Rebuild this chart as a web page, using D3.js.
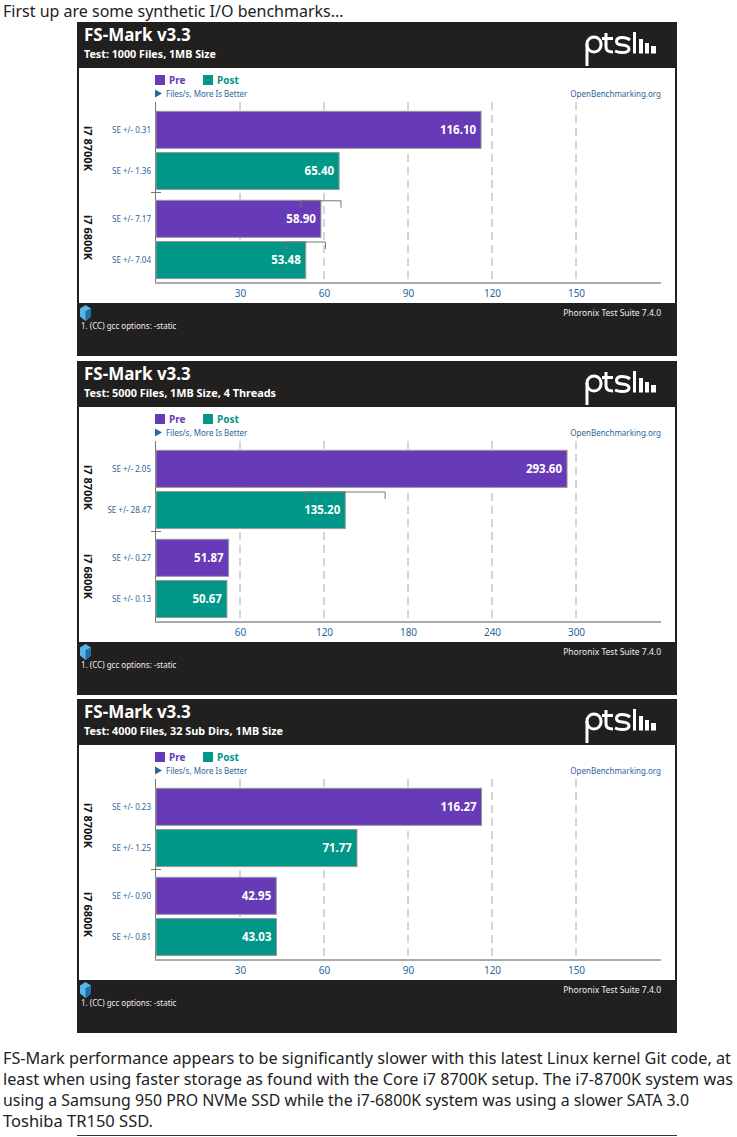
<!DOCTYPE html>
<html>
<head>
<meta charset="utf-8">
<script src="https://cdn.jsdelivr.net/npm/d3@7"></script>
<style>
  body { margin: 0; background: #fff; }
  svg { display: block; }
</style>
</head>
<body>
<script>
// Chart data
const tests = ['Test: 1000 Files, 1MB Size', 'Test: 5000 Files, 1MB Size, 4 Threads', 'Test: 4000 Files, 32 Sub Dirs, 1MB Size'];
const systems = ['i7 8700K', 'i7 6800K'];
const series = ['Pre', 'Post'];
const preValues = [[116.10, 58.90], [293.60, 51.87], [116.27, 42.95]];
const postValues = [[65.40, 53.48], [135.20, 50.67], [71.77, 43.03]];
const preSE = [[0.31, 7.17], [2.05, 0.27], [0.23, 0.90]];
const postSE = [[1.36, 7.04], [28.47, 0.13], [1.25, 0.81]];
const tickValues = [[30, 60, 90, 120, 150], [60, 120, 180, 240, 300], [30, 60, 90, 120, 150]];
const axisMax = [180, 360, 180];

const introText = 'First up are some synthetic I/O benchmarks...';
const paragraph = [
  'FS-Mark performance appears to be significantly slower with this latest Linux kernel Git code, at',
  'least when using faster storage as found with the Core i7 8700K setup. The i7-8700K system was',
  'using a Samsung 950 PRO NVMe SSD while the i7-6800K system was using a slower SATA 3.0',
  'Toshiba TR150 SSD.'
];

const W = 737, H = 1137;
const font = '"Noto Sans", "Open Sans", sans-serif';
const colors = { Pre: '#673ab7', Post: '#009688' };
const blue = '#2b6699', dark = '#221f1f';

const svg = d3.select('body').append('svg')
    .attr('width', W)
    .attr('height', H)
    .style('font-family', font);

// shrink a text to a width if it runs long
function fit(sel, w) {
  sel.each(function () {
    if (this.getComputedTextLength() > w) {
      d3.select(this).attr('textLength', w).attr('lengthAdjust', 'spacingAndGlyphs');
    }
  });
}

svg.append('text')
    .attr('x', 3).attr('y', 17)
    .attr('font-size', 16).attr('fill', '#222')
    .text(introText)
    .call(fit, 342);

const panelTops = [22, 361, 699];
const px0 = 77, px1 = 677;

tests.forEach((test, i) => {
  const g = svg.append('g').attr('transform', `translate(0,${panelTops[i]})`);

  // frame, header and footer
  g.append('rect').attr('x', px0).attr('y', 0).attr('width', px1 - px0).attr('height', 334).attr('fill', dark);
  g.append('rect').attr('x', px0 + 2).attr('y', 46).attr('width', px1 - px0 - 4).attr('height', 235).attr('fill', '#fff');

  g.append('text').attr('x', 84).attr('y', 18.5)
      .attr('font-size', 17).attr('font-weight', 'bold').attr('fill', '#fff')
      .text('FS-Mark v3.3').call(fit, 107);
  g.append('text').attr('x', 84).attr('y', 35.5)
      .attr('font-size', 11).attr('font-weight', 'bold').attr('fill', '#fff')
      .text(test).call(fit, [132, 192, 199][i]);

  // ptsl logo
  const logo = g.append('g').attr('stroke', '#fff').attr('stroke-width', 3).attr('fill', 'none');
  logo.append('rect').attr('x', 587).attr('y', 15).attr('width', 14).attr('height', 15).attr('rx', 7);
  logo.append('path').attr('d', 'M587,22 V44');
  logo.append('path').attr('d', 'M606,11 V25 Q606,30 613,30');
  logo.append('path').attr('d', 'M602,16.5 H613');
  logo.append('path').attr('d', 'M630,18 Q627,15.5 622,15.5 Q616.5,15.5 616.5,19.5 Q616.5,22.5 622,23 Q629,23.5 629,27 Q629,30.5 622,30.5 Q618,30.5 615,29');
  const bars = g.append('g').attr('fill', '#fff');
  bars.append('rect').attr('x', 633).attr('y', 10).attr('width', 3).attr('height', 21.5);
  bars.append('rect').attr('x', 639).attr('y', 17).attr('width', 4).attr('height', 14.5);
  bars.append('rect').attr('x', 645).attr('y', 21).attr('width', 4).attr('height', 10.5);
  bars.append('rect').attr('x', 651).attr('y', 24).attr('width', 5).attr('height', 7.5);

  // legend
  const leg = g.selectAll('.leg').data(series).join('g')
      .attr('transform', (d, j) => `translate(${155 + j * 48},53)`);
  leg.append('rect').attr('width', 10).attr('height', 10).attr('fill', d => colors[d]);
  leg.append('text').attr('x', 14).attr('y', 8.5)
      .attr('font-size', 10).attr('font-weight', 'bold').attr('fill', d => colors[d])
      .text(d => d);

  g.append('path').attr('d', 'M155,67.5 L162,71.5 L155,75.5 Z').attr('fill', blue);
  g.append('text').attr('x', 166).attr('y', 74.5).attr('font-size', 8).attr('fill', blue)
      .text('Files/s, More Is Better');
  g.append('text').attr('x', 661).attr('y', 74.5).attr('font-size', 8).attr('fill', blue)
      .attr('text-anchor', 'end').text('OpenBenchmarking.org');

  // scales
  const top = 80, bottom = 260;
  const x = d3.scaleLinear().domain([0, axisMax[i]]).range([156, 660]);
  const y = d3.scaleBand().domain(systems).range([top + 2, bottom]);
  const ys = d3.scaleBand().domain(series).range([0, y.bandwidth()])
      .paddingInner(0.1).paddingOuter(0.13).align(0.68);

  // dashed grid
  g.selectAll('.grid').data(tickValues[i]).join('line')
      .attr('x1', d => x(d)).attr('x2', d => x(d))
      .attr('y1', top).attr('y2', bottom)
      .attr('stroke', '#aaa').attr('stroke-dasharray', '8,5');

  // left axis line and group separator
  g.append('line').attr('x1', 155.5).attr('x2', 155.5).attr('y1', top).attr('y2', bottom)
      .attr('stroke', '#777');
  g.append('line').attr('x1', 151).attr('x2', 161)
      .attr('y1', y(systems[1]) - 0.5).attr('y2', y(systems[1]) - 0.5)
      .attr('stroke', '#777');

  const rows = [];
  systems.forEach((s, k) => {
    rows.push({ sys: s, ser: 'Pre', v: preValues[i][k], se: preSE[i][k] });
    rows.push({ sys: s, ser: 'Post', v: postValues[i][k], se: postSE[i][k] });
  });
  const by = d => y(d.sys) + ys(d.ser);
  const bh = ys.bandwidth();

  g.selectAll('.bar').data(rows).join('rect')
      .attr('x', x(0)).attr('y', by)
      .attr('width', d => x(d.v) - x(0)).attr('height', bh)
      .attr('fill', d => colors[d.ser])
      .attr('stroke', '#999').attr('stroke-width', 1);

  // error bars along the top edge, only where they are wide enough to show
  g.selectAll('.err').data(rows.filter(d => x(d.v + d.se) - x(d.v) > 6)).join('path')
      .attr('stroke', '#777').attr('fill', 'none')
      .attr('d', d => {
        const a = x(d.v - d.se), b = x(d.v + d.se), t = by(d) + 0.5;
        return `M${a},${t + 7} V${t} H${b} V${t + 7}`;
      });

  g.selectAll('.val').data(rows).join('text')
      .attr('x', d => x(d.v) - 5).attr('y', d => by(d) + bh / 2)
      .attr('dy', '0.36em').attr('text-anchor', 'end')
      .attr('font-size', 11.5).attr('font-weight', 'bold').attr('fill', '#fff')
      .text(d => d.v.toFixed(2));

  g.selectAll('.se').data(rows).join('text')
      .attr('x', 151).attr('y', d => by(d) + bh / 2)
      .attr('dy', '0.35em').attr('text-anchor', 'end')
      .attr('font-size', 8).attr('fill', blue)
      .text(d => 'SE +/- ' + d.se.toFixed(2));

  g.selectAll('.sys').data(systems).join('text')
      .attr('transform', d => `translate(88,${y(d) + y.bandwidth() / 2}) rotate(90)`)
      .attr('dy', '0.35em').attr('text-anchor', 'middle')
      .attr('font-size', 11).attr('font-weight', 'bold').attr('fill', '#111')
      .text(d => d);

  // bottom axis
  g.append('line').attr('x1', 155).attr('x2', 661).attr('y1', bottom + 1).attr('y2', bottom + 1)
      .attr('stroke', '#aaa').attr('stroke-width', 2);
  const ax = g.append('g').attr('transform', `translate(0,${bottom + 2})`)
      .call(d3.axisBottom(x).tickValues(tickValues[i]).tickSize(0).tickPadding(6));
  ax.select('.domain').remove();
  ax.selectAll('text').attr('font-size', 10).attr('font-family', font).attr('fill', blue);

  // footer
  g.append('polygon').attr('points', '85.5,283 91,286.5 91,294.5 85.5,299 80,294.5 80,286.5').attr('fill', '#5ab4e5');
  g.append('polygon').attr('points', '85.5,289 91,286.5 91,294.5 85.5,299').attr('fill', '#1f6fa8');
  g.append('text').attr('x', 661).attr('y', 294).attr('text-anchor', 'end')
      .attr('font-size', 8.5).attr('fill', '#eee').text('Phoronix Test Suite 7.4.0');
  g.append('text').attr('x', 81).attr('y', 307)
      .attr('font-size', 8).attr('fill', '#eee').text('1. (CC) gcc options: -static');
});

// closing paragraph
const lineWidths = [728, 730, 686, 150];
svg.selectAll('.para').data(paragraph).join('text')
    .attr('x', 3).attr('y', (d, j) => 1064 + j * 21)
    .attr('font-size', 16).attr('fill', '#222')
    .attr('textLength', (d, j) => lineWidths[j]).attr('lengthAdjust', 'spacingAndGlyphs')
    .text(d => d);

svg.append('line').attr('x1', 77).attr('x2', 677).attr('y1', 1135.5).attr('y2', 1135.5)
    .attr('stroke', '#333');
</script>
</body>
</html>
